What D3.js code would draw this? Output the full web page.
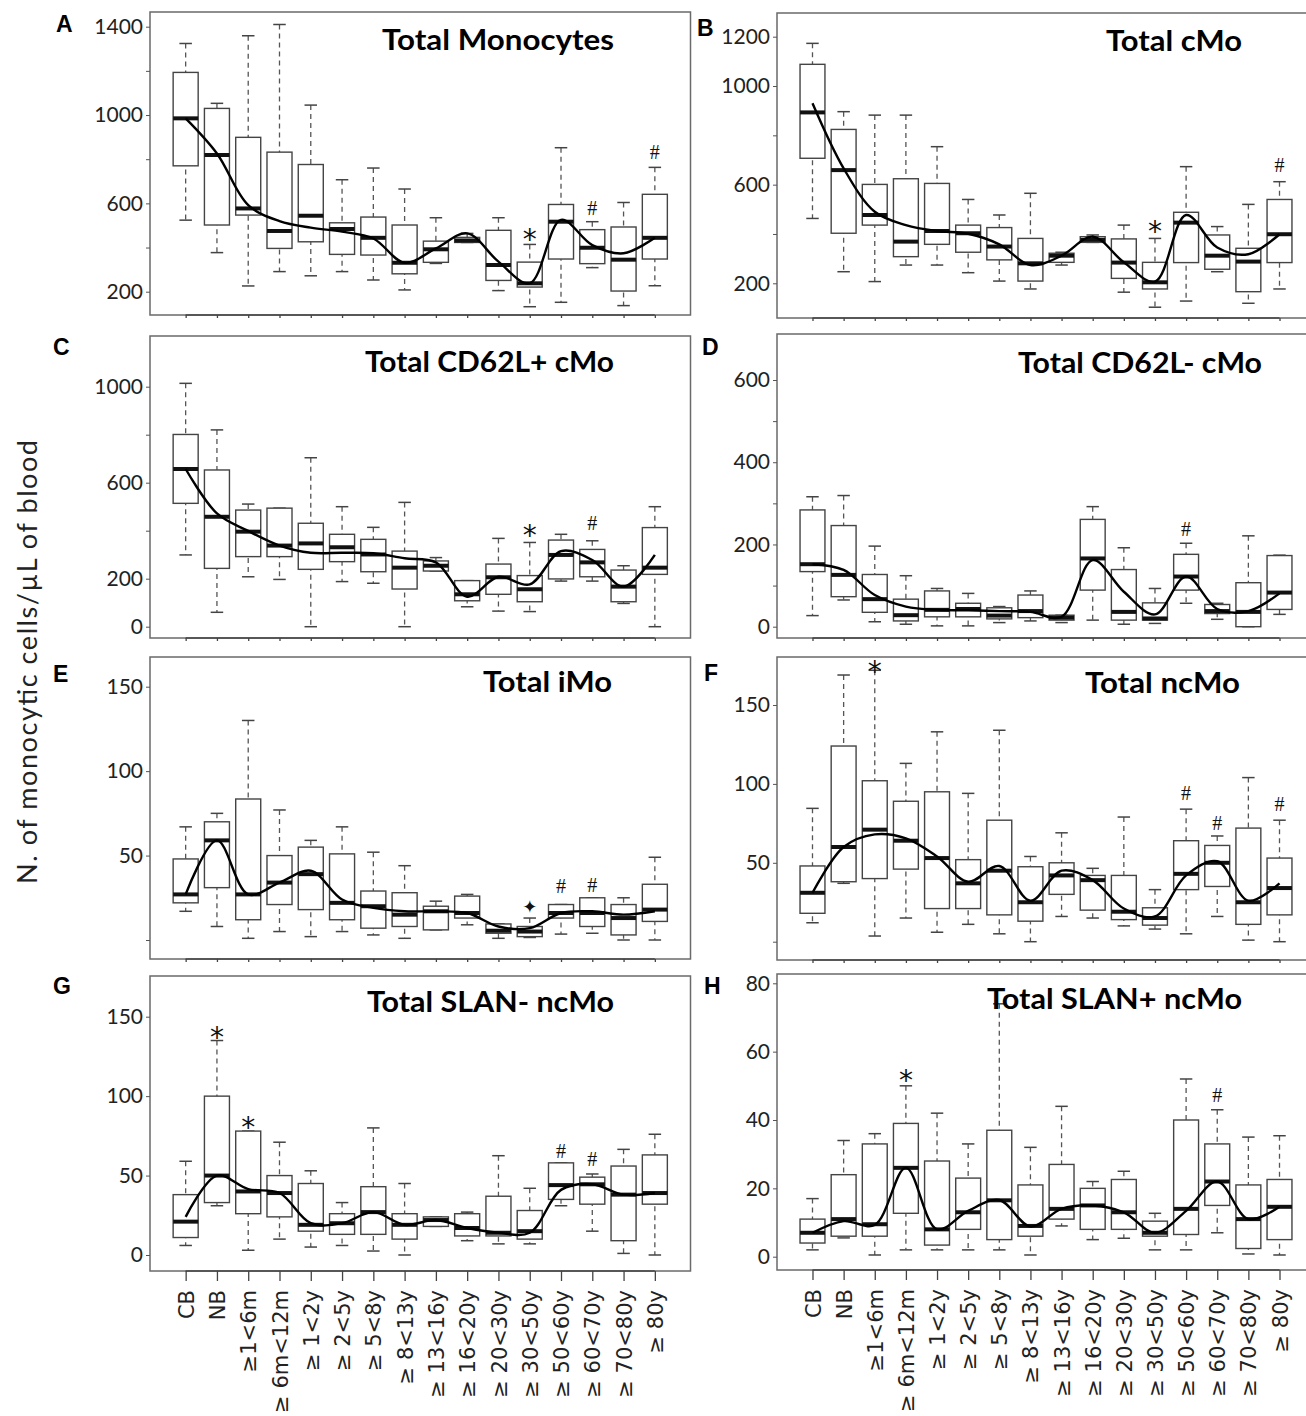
<!DOCTYPE html>
<html>
<head>
<meta charset="utf-8">
<script src="https://cdn.jsdelivr.net/npm/d3@7"></script>
<style>
  body { margin: 0; background: #fff; }
</style>
</head>
<body>
<svg id="fig" width="1306" height="1416"></svg>
<script>
// age groups on the x axis
const categories = ["CB", "NB", "≥1<6m", "≥ 6m<12m", "≥ 1<2y", "≥ 2<5y", "≥ 5<8y", "≥ 8<13y",
  "≥ 13<16y", "≥ 16<20y", "≥ 20<30y", "≥ 30<50y", "≥ 50<60y", "≥ 60<70y", "≥ 70<80y", "≥ 80y"];

// box stats per age group: [whisker low, q1, median, q3, whisker high]
const totalMonoBoxes = [
  [524, 770, 985, 1193, 1324], [377, 502, 819, 1030, 1053], [226, 547, 577, 899, 1359], [291, 396, 475, 832, 1410],
  [272, 426, 544, 776, 1045], [291, 369, 484, 512, 707], [253, 366, 444, 538, 760], [208, 281, 331, 502, 665],
  [328, 333, 392, 429, 535], [423, 423, 432, 446, 464], [205, 251, 321, 478, 535], [132, 221, 238, 334, 414],
  [152, 348, 517, 595, 852], [309, 327, 399, 481, 517], [137, 203, 345, 493, 604], [227, 348, 444, 641, 763]];
const totalMonoFit = [985, 826, 592, 520, 490, 472, 441, 331, 396, 464, 336, 238, 525, 411, 374, 444];
const totalMonoMarks = [[11, "*", 464], [13, "#", 580], [15, "#", 834]];

const cMoBoxes = [
  [463, 707, 893, 1088, 1173], [247, 403, 659, 824, 896], [207, 436, 477, 601, 882], [274, 308, 369, 624, 882],
  [274, 358, 412, 605, 754], [243, 326, 403, 436, 540], [209, 295, 349, 426, 477], [177, 209, 281, 382, 565],
  [274, 285, 312, 322, 326], [366, 366, 376, 389, 396], [164, 220, 284, 380, 436], [103, 177, 204, 285, 382],
  [128, 284, 446, 488, 673], [247, 257, 312, 396, 430], [119, 166, 288, 342, 520], [177, 284, 399, 540, 612]];
const cMoFit = [930, 666, 490, 436, 412, 401, 358, 274, 312, 389, 285, 207, 477, 345, 318, 399];
const cMoMarks = [[11, "*", 436], [15, "#", 680]];

const cd62lPosBoxes = [
  [299, 514, 657, 801, 1014], [60, 243, 458, 653, 820], [208, 292, 396, 486, 511], [197, 292, 338, 494, 494],
  [0, 239, 347, 431, 704], [188, 271, 331, 385, 500], [181, 229, 301, 364, 414], [0, 157, 246, 315, 518],
  [232, 232, 254, 274, 288], [83, 108, 135, 192, 192], [65, 135, 206, 261, 368], [63, 104, 156, 213, 351],
  [190, 199, 299, 361, 385], [190, 208, 268, 322, 358], [97, 104, 167, 236, 254], [0, 218, 246, 413, 500]];
const cd62lPosFit = [657, 472, 399, 338, 308, 308, 306, 285, 268, 125, 208, 176, 315, 278, 167, 299];
const cd62lPosMarks = [[11, "*", 403], [13, "#", 431]];

const cd62lNegBoxes = [
  [27, 134, 152, 284, 316], [65, 73, 126, 246, 319], [12, 35, 67, 127, 196], [6, 14, 28, 67, 124],
  [2, 24, 41, 87, 93], [2, 24, 43, 57, 81], [10, 19, 27, 46, 49], [14, 22, 38, 77, 87],
  [10, 16, 22, 28, 28], [16, 89, 166, 261, 292], [6, 16, 36, 139, 192], [8, 16, 20, 58, 93],
  [57, 89, 122, 176, 203], [18, 32, 38, 54, 57], [0, 0, 36, 107, 221], [30, 42, 83, 173, 174]];
const cd62lNegFit = [152, 138, 77, 49, 41, 40, 38, 36, 24, 162, 85, 30, 122, 43, 38, 81];
const cd62lNegMarks = [[12, "#", 238]];

const iMoBoxes = [
  [17, 22, 27, 48, 67], [8, 31, 59, 70, 75], [1, 12, 27, 83.5, 130], [5, 21, 34, 50, 77],
  [2, 18, 39, 55, 59], [5, 12, 22, 51, 67], [3, 7, 20, 29, 52], [1, 8, 15, 28, 44],
  [6, 6, 17, 20, 23], [9, 13, 16, 26, 27], [1, 4, 5.5, 9.5, 9.5], [1.5, 2, 5, 8, 13],
  [3.5, 13, 16, 21, 21], [4, 8, 16, 25, 25], [0, 3, 13, 21, 25], [0, 11, 18, 33, 49]];
const iMoFit = [27, 59, 27, 34, 41, 24, 19, 17, 17, 16, 8, 7, 16, 17, 15, 17];
const iMoMarks = [[11, "✦", 19.7], [12, "#", 32], [13, "#", 32.6]];

const ncMoBoxes = [
  [12, 18, 31, 48, 84.5], [37, 38, 60, 124, 169], [3.6, 40, 71, 102, 172], [15, 46, 64, 89, 113],
  [6, 21, 53, 95, 133], [11, 21, 37, 52, 94], [5, 17, 45, 77, 134], [0, 13, 25, 47.5, 54],
  [16, 30, 42, 50, 69], [15, 20, 39, 42, 46.5], [10, 14, 19, 42, 79], [8, 10.5, 15, 21.5, 33],
  [5, 33, 43, 64, 84], [16, 35, 50, 61, 67], [1, 11, 25, 72, 104], [0, 17, 34, 53, 77]];
const ncMoFit = [31, 60, 68, 65.5, 54, 38, 48, 26, 45, 39, 21, 16, 42, 51, 26, 37];
const ncMoMarks = [[2, "*", 175], [12, "#", 94.5], [13, "#", 75.4], [15, "#", 87.7]];

const slanNegBoxes = [
  [6, 11, 21, 38, 59], [31, 33, 50, 100, 135], [3, 26, 40, 78, 78], [10, 24, 39, 50, 71],
  [5, 15, 19, 45, 53], [6, 13, 20, 26, 33], [2.5, 13, 27, 43, 80], [0, 10, 19, 26, 45],
  [18, 18, 22, 24, 24], [9, 12, 17, 26, 27], [7, 12, 14, 37, 62.5], [7, 10, 15, 28, 42],
  [31, 35, 44, 58, 58], [15, 32, 44.5, 49, 51], [1, 9, 38, 56, 66.5], [0, 32, 39, 63, 76]];
const slanNegFit = [24, 50, 41.5, 39, 20, 20, 27, 19, 22, 17, 14, 14, 41, 44.5, 38, 39];
const slanNegMarks = [[1, "*", 140.6], [2, "*", 84], [12, "#", 65.7], [13, "#", 60.8]];

const slanPosBoxes = [
  [2, 4, 7, 11, 17], [5.5, 6, 11, 24, 34], [0.5, 6, 9.5, 33, 36], [2, 12.7, 26, 39, 50],
  [2, 3.4, 8, 28, 42], [2, 8, 13, 23, 33], [2, 5, 16.5, 37, 74], [0.5, 6, 9, 21, 32],
  [9, 11, 14, 27, 44], [5, 8, 15, 20, 22], [5.4, 8, 13, 22.6, 25], [2, 6, 7, 10.4, 12.7],
  [2, 6.5, 14, 40, 52], [7, 15, 22, 33, 43], [0.8, 2.4, 11, 21, 35], [0.5, 5, 14.6, 22.6, 35.4]];
const slanPosFit = [7, 10.4, 9.3, 26, 8, 13.4, 16.6, 8.8, 14, 15, 13, 7, 13.4, 22, 11, 14.6];
const slanPosMarks = [[3, "*", 53.2], [13, "#", 47.3]];

// y ticks and which of them get a label
const ticksA = [200, 400, 600, 800, 1000, 1200, 1400], labelsA = [200, 600, 1000, 1400];
const ticksB = [200, 400, 600, 800, 1000, 1200], labelsB = [200, 600, 1000, 1200];
const ticksC = [0, 200, 400, 600, 800, 1000], labelsC = [0, 200, 600, 1000];
const ticksD = [0, 100, 200, 300, 400, 500, 600], labelsD = [0, 200, 400, 600];
const ticksE = [0, 50, 100, 150], labelsE = [50, 100, 150];
const ticksF = [0, 50, 100, 150], labelsF = [50, 100, 150];
const ticksG = [0, 50, 100, 150], labelsG = [0, 50, 100, 150];
const ticksH = [0, 20, 40, 60, 80], labelsH = [0, 20, 40, 60, 80];

// layout: frame box, two tick positions to pin the y scale, title anchor
const L = { l: 150, r: 690.5 }, R = { l: 777, r: 1315 };
const panels = [
  { letter: "A", lx: 56, ly: 32, title: "Total Monocytes", tx: 614, ty: 50, tw: 232, col: L, t: 12, b: 315,
    yRef: [[200, 291.7], [1400, 26.7]], ticks: ticksA, labels: labelsA, boxes: totalMonoBoxes, fit: totalMonoFit, marks: totalMonoMarks },
  { letter: "B", lx: 697, ly: 36, title: "Total cMo", tx: 1242, ty: 51, tw: 136, col: R, t: 13, b: 318,
    yRef: [[200, 283.3], [1200, 36.7]], ticks: ticksB, labels: labelsB, boxes: cMoBoxes, fit: cMoFit, marks: cMoMarks },
  { letter: "C", lx: 53, ly: 355, title: "Total CD62L+ cMo", tx: 614, ty: 372, tw: 249, col: L, t: 336, b: 638,
    yRef: [[0, 626.7], [1000, 386.7]], ticks: ticksC, labels: labelsC, boxes: cd62lPosBoxes, fit: cd62lPosFit, marks: cd62lPosMarks },
  { letter: "D", lx: 702, ly: 355, title: "Total CD62L- cMo", tx: 1262, ty: 373, tw: 244, col: R, t: 334, b: 638,
    yRef: [[0, 626.7], [600, 380]], ticks: ticksD, labels: labelsD, boxes: cd62lNegBoxes, fit: cd62lNegFit, marks: cd62lNegMarks },
  { letter: "E", lx: 53, ly: 682, title: "Total iMo", tx: 612, ty: 692, tw: 129, col: L, t: 657, b: 959,
    yRef: [[0, 940], [150, 686.7]], ticks: ticksE, labels: labelsE, boxes: iMoBoxes, fit: iMoFit, marks: iMoMarks },
  { letter: "F", lx: 704, ly: 681, title: "Total ncMo", tx: 1240, ty: 693, tw: 155, col: R, t: 657, b: 960,
    yRef: [[0, 941.7], [150, 705]], ticks: ticksF, labels: labelsF, boxes: ncMoBoxes, fit: ncMoFit, marks: ncMoMarks },
  { letter: "G", lx: 53, ly: 994, title: "Total SLAN- ncMo", tx: 614, ty: 1012, tw: 247, col: L, t: 976, b: 1271,
    yRef: [[0, 1255], [150, 1016.7]], ticks: ticksG, labels: labelsG, boxes: slanNegBoxes, fit: slanNegFit, marks: slanNegMarks, xLabels: true },
  { letter: "H", lx: 704, ly: 994, title: "Total SLAN+ ncMo", tx: 1242, ty: 1009, tw: 255, col: R, t: 974, b: 1270,
    yRef: [[0, 1256.7], [80, 983.3]], ticks: ticksH, labels: labelsH, boxes: slanPosBoxes, fit: slanPosFit, marks: slanPosMarks, xLabels: true }
];

const svg = d3.select("#fig");
svg.append("rect").attr("width", 1306).attr("height", 1416).attr("fill", "#fff");

// glyph centre offsets (fraction of font size) for the significance marks
const markStyle = {
  "*": { font: "DejaVu Sans", size: 28, k: 0.55 },
  "#": { font: "Liberation Serif", size: 20, k: 0.36 },
  "✦": { font: "DejaVu Sans", size: 18, k: 0.36 }
};

panels.forEach(p => {
  const x = d3.scalePoint().domain(categories).range([p.col.l, p.col.r]).padding(1.14);
  const y = d3.scaleLinear()
    .domain([p.yRef[0][0], p.yRef[1][0]])
    .range([p.yRef[0][1], p.yRef[1][1]]);
  const bw = x.step() * 0.8, cw = bw * 0.5;
  const g = svg.append("g");

  // frame
  g.append("rect")
    .attr("x", p.col.l).attr("y", p.t)
    .attr("width", p.col.r - p.col.l).attr("height", p.b - p.t)
    .attr("fill", "none").attr("stroke", "#6a6a6a").attr("stroke-width", 1.5);

  // y axis
  const ya = g.append("g")
    .attr("transform", `translate(${p.col.l},0)`)
    .call(d3.axisLeft(y).tickValues(p.ticks).tickSize(4).tickPadding(3)
      .tickFormat(d => p.labels.includes(d) ? d : ""));
  ya.select(".domain").remove();
  ya.selectAll("line").attr("stroke", "#555");
  ya.selectAll("text").attr("font-family", "Lato, 'Open Sans', sans-serif")
    .attr("font-size", 21).attr("fill", "#222");

  // x axis (ticks; labels only on the bottom row)
  const xa = g.append("g")
    .attr("transform", `translate(0,${p.b})`)
    .call(d3.axisBottom(x).tickSize(p.xLabels ? 10 : 3).tickFormat(p.xLabels ? d => d : ""));
  xa.select(".domain").remove();
  xa.selectAll("line").attr("stroke", "#444").attr("stroke-width", 1.3);
  xa.append("line")
    .attr("x1", x(categories[0])).attr("x2", x(categories[categories.length - 1]))
    .attr("stroke", "#444").attr("stroke-width", 1.5);
  if (p.xLabels) {
    xa.selectAll(".tick text")
      .attr("transform", "rotate(-90)")
      .attr("x", -19).attr("y", 0).attr("dy", "0.36em")
      .attr("text-anchor", "end")
      .attr("font-family", "'DejaVu Sans', sans-serif")
      .attr("font-size", 21).attr("fill", "#222");
  }

  const rows = p.boxes.map((b, i) => ({ cat: categories[i], wl: b[0], q1: b[1], med: b[2], q3: b[3], wh: b[4] }));

  // whiskers
  g.selectAll(null).data(rows).join("line")
    .attr("x1", d => x(d.cat)).attr("x2", d => x(d.cat))
    .attr("y1", d => y(d.wh)).attr("y2", d => y(d.wl))
    .attr("stroke", "#555").attr("stroke-width", 1.3).attr("stroke-dasharray", "5,4");
  ["wl", "wh"].forEach(k => {
    g.selectAll(null).data(rows).join("line")
      .attr("x1", d => x(d.cat) - cw / 2).attr("x2", d => x(d.cat) + cw / 2)
      .attr("y1", d => y(d[k])).attr("y2", d => y(d[k]))
      .attr("stroke", "#444").attr("stroke-width", 1.5);
  });

  // boxes
  g.selectAll(null).data(rows).join("rect")
    .attr("x", d => x(d.cat) - bw / 2).attr("width", bw)
    .attr("y", d => y(d.q3)).attr("height", d => Math.max(0.5, y(d.q1) - y(d.q3)))
    .attr("fill", "#fff").attr("stroke", "#444").attr("stroke-width", 1.4);

  // medians
  g.selectAll(null).data(rows).join("line")
    .attr("x1", d => x(d.cat) - bw / 2).attr("x2", d => x(d.cat) + bw / 2)
    .attr("y1", d => y(d.med)).attr("y2", d => y(d.med))
    .attr("stroke", "#111").attr("stroke-width", 4);

  // smoothed trend
  const line = d3.line()
    .x((d, i) => x(categories[i]))
    .y(d => y(d))
    .curve(d3.curveCatmullRom.alpha(0.5));
  g.append("path").attr("d", line(p.fit))
    .attr("fill", "none").attr("stroke", "#000").attr("stroke-width", 2.4);

  // significance marks
  p.marks.forEach(([i, sym, v]) => {
    const s = markStyle[sym];
    g.append("text")
      .attr("x", x(categories[i])).attr("y", y(v) + s.k * s.size)
      .attr("text-anchor", "middle")
      .attr("font-family", s.font).attr("font-size", s.size).attr("fill", "#111")
      .text(sym);
  });

  // title and panel letter
  g.append("text")
    .attr("x", p.tx).attr("y", p.ty).attr("text-anchor", "end")
    .attr("font-family", "Lato, 'Open Sans', sans-serif").attr("font-weight", 700)
    .attr("font-size", 28).attr("fill", "#000")
    .attr("textLength", p.tw).attr("lengthAdjust", "spacingAndGlyphs")
    .text(p.title);
  svg.append("text")
    .attr("x", p.lx).attr("y", p.ly)
    .attr("font-family", "'Liberation Sans', Arial, sans-serif").attr("font-weight", 700)
    .attr("font-size", 23).attr("fill", "#000")
    .text(p.letter);
});

// shared y title
svg.append("text")
  .attr("transform", "translate(28,662) rotate(-90)")
  .attr("text-anchor", "middle").attr("dy", "0.35em")
  .attr("font-family", "Lato, 'Open Sans', sans-serif")
  .attr("font-size", 27).attr("fill", "#222")
  .attr("textLength", 444).attr("lengthAdjust", "spacing")
  .text("N. of monocytic cells/µL of blood");
</script>
</body>
</html>
